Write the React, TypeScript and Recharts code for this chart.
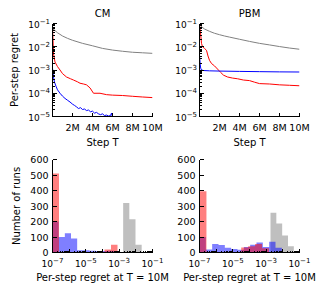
import React from 'react';
import { LineChart, ComposedChart, Line, Area, XAxis, YAxis } from 'recharts';

const FONT = "'DejaVu Sans', sans-serif";
const M = 1e6;

// ---------- Top row: per-step regret vs step T (T in millions) ----------
const CM_GRAY_T = [0, 0.2, 0.5, 1, 1.5, 2, 3, 4, 5, 6, 7, 8, 9, 10];
const CM_GRAY_V = [0.06, 0.052, 0.04, 0.029, 0.023, 0.019, 0.014, 0.011, 0.0085, 0.0072, 0.0064, 0.0058, 0.0055, 0.0052];
const CM_RED_T = [0, 0.05, 0.1, 0.25, 0.5, 0.75, 1.0, 1.4, 1.8, 2.1, 2.5, 2.75, 3.1, 3.4, 3.75, 4.1, 4.75, 5.4, 6, 7, 8, 9, 10];
const CM_RED_V = [0.07, 0.02, 0.005, 0.0022, 0.0014, 0.001, 0.0007, 0.0005, 0.00042, 0.00037, 0.00031, 0.00027, 0.00025, 0.00023, 0.00017, 0.0001, 0.0001, 0.000087, 0.000083, 0.00008, 0.000074, 0.000069, 0.000065];
const CM_BLUE_T = [0, 0.05, 0.1, 0.2, 0.35, 0.5, 0.75, 1.0, 1.25, 1.5, 1.75, 2.0, 2.2, 2.4, 2.6, 2.8, 3.0, 3.2, 3.4, 3.6, 3.8, 4.0, 4.2, 4.4, 4.6, 4.8, 5.0, 5.2, 5.4, 5.6, 5.8, 5.9, 6.0, 6.2];
const CM_BLUE_V = [0.0012, 0.0008, 0.0005, 0.0003, 0.0002, 0.00014, 0.0001, 0.000075, 0.00006, 0.00005, 0.000042, 0.000034, 0.00003, 0.000026, 0.000022, 0.000024, 0.00002, 0.000021, 0.000018, 0.000019, 0.000016, 0.000017, 0.000014, 0.000015, 0.000013, 0.000012, 0.000013, 0.000011, 0.0000115, 0.0000105, 0.000011, 0.000014, 0.000009, 0.000007];

const PBM_GRAY_T = [0, 0.1, 0.25, 0.5, 1, 1.5, 2, 2.5, 3, 4, 5, 6, 7, 8, 9, 10];
const PBM_GRAY_V = [0.095, 0.082, 0.07, 0.058, 0.046, 0.038, 0.033, 0.029, 0.026, 0.021, 0.017, 0.014, 0.012, 0.0102, 0.0088, 0.0078];
const PBM_RED_T = [0, 0.1, 0.2, 0.3, 0.5, 0.7, 0.85, 1.0, 1.2, 1.5, 1.8, 2.1, 2.4, 2.8, 3.3, 3.8, 4.4, 5.0, 5.5, 6.0, 7.0, 8.0, 9.0, 10];
const PBM_RED_V = [0.09, 0.04, 0.014, 0.01, 0.0085, 0.007, 0.004, 0.0026, 0.0019, 0.0015, 0.0011, 0.0008, 0.0006, 0.0005, 0.00045, 0.00042, 0.00037, 0.00035, 0.0003, 0.00026, 0.00025, 0.00023, 0.00022, 0.00021];
const PBM_BLUE_T = [0, 0.03, 0.07, 0.12, 0.2, 0.4, 1, 2, 4, 6, 8, 10];
const PBM_BLUE_V = [0.0045, 0.003, 0.0018, 0.0012, 0.001, 0.00095, 0.00092, 0.0009, 0.00087, 0.00085, 0.00083, 0.00082];

// ---------- Bottom row: histograms (bins in log10 of regret) ----------
const CM_RED_EDGE0 = -7, CM_RED_BINW = 0.39;
const CM_RED_COUNTS = [510, 0, 0, 0, 0, 0, 0, 0, 20, 50];
const CM_BLUE_EDGE0 = -7, CM_BLUE_BINW = 0.37;
const CM_BLUE_COUNTS = [200, 100, 125, 90, 15, 15, 12, 10, 10, 12];
const CM_GRAY_EDGE0 = -2.76, CM_GRAY_BINW = 0.37;
const CM_GRAY_COUNTS = [320, 215, 50];

const PBM_RED_EDGE0 = -7, PBM_RED_BINW = 0.417;
const PBM_RED_COUNTS = [395, 0, 0, 0, 0, 0, 33, 40, 55, 28];
const PBM_BLUE_EDGE0 = -7, PBM_BLUE_BINW = 0.38;
const PBM_BLUE_COUNTS = [100, 20, 55, 48, 31, 22, 18, 35, 50, 65, 35, 70, 30];
const PBM_GRAY_EDGE0 = -2.74, PBM_GRAY_BINW = 0.35;
const PBM_GRAY_COUNTS = [256, 187, 110, 41];

// ---------- Ticks ----------
const STEP_TICKS_M = [2, 4, 6, 8, 10];
const REGRET_EXPS = [-5, -4, -3, -2, -1];
const HIST_EXPS = [-7, -6, -5, -4, -3, -2, -1];
const HIST_LABEL_EXPS = [-7, -5, -3, -1];
const COUNT_TICKS = [0, 100, 200, 300, 400, 500, 600];

const withMinors = (exps: number[]) => {
  const out: number[] = [];
  exps.forEach((k, i) => {
    out.push(Math.pow(10, k));
    if (i < exps.length - 1) for (let m = 2; m <= 9; m++) out.push(m * Math.pow(10, k));
  });
  return out;
};
const REGRET_TICKS = withMinors(REGRET_EXPS);
const HIST_X_TICKS = withMinors(HIST_EXPS);
const STEP_TICKS = STEP_TICKS_M.map((t) => t * M);

const toLine = (ts: number[], vs: number[]) => ts.map((t, i) => ({ t: t * M, v: vs[i] }));

type Hist = { start: number; width: number; counts: number[] };
const buildHistRows = (series: Record<string, Hist>) => {
  const edges = new Set<number>([-7, -1]);
  Object.values(series).forEach((h) => {
    for (let i = 0; i <= h.counts.length; i++) edges.add(+(h.start + i * h.width).toFixed(6));
  });
  const sorted = Array.from(edges).sort((a, b) => a - b);
  return sorted.map((e) => {
    const row: Record<string, number> = { x: Math.pow(10, e) };
    Object.entries(series).forEach(([k, h]) => {
      const idx = Math.floor((e - h.start) / h.width + 1e-6);
      row[k] = idx >= 0 && idx < h.counts.length ? h.counts[idx] : 0;
    });
    return row;
  });
};

const expOf = (v: number) => Math.round(Math.log10(v));
const isDecade = (v: number) => Math.abs(Math.log10(v) - expOf(v)) < 1e-6;

const Pow = ({ x, y, exp, anchor }: { x: number; y: number; exp: number; anchor: 'start' | 'middle' | 'end' }) => (
  <text x={x} y={y} textAnchor={anchor} fontFamily={FONT} fontSize={9} fill="#000">
    <tspan>10</tspan>
    <tspan dy={-4} fontSize={7}>{exp < 0 ? '\u2212' + Math.abs(exp) : String(exp)}</tspan>
  </text>
);

const TL = (p: { x1: number; y1: number; x2: number; y2: number }) => (
  <line {...p} stroke="#000" strokeWidth={1} shapeRendering="crispEdges" />
);

// tick renderers (tickSize=0, tickMargin=0 so x/y are on the spine)
const leftLogTick = (p: any) => {
  const v = p.payload.value;
  const major = isDecade(v);
  const len = major ? 4 : 2;
  return (
    <g>
      <TL x1={p.x} x2={p.x + len} y1={p.y} y2={p.y} />
      {major && <Pow x={p.x - 2.5} y={p.y + 4} exp={expOf(v)} anchor="end" />}
    </g>
  );
};
const rightLogTick = (p: any) => {
  const len = isDecade(p.payload.value) ? 4 : 2;
  return <TL x1={p.x} x2={p.x - len} y1={p.y} y2={p.y} />;
};
const leftLinTick = (p: any) => (
  <g>
    <TL x1={p.x} x2={p.x + 4} y1={p.y} y2={p.y} />
    <text x={p.x - 4} y={p.y + 3.5} textAnchor="end" fontFamily={FONT} fontSize={9.5} fill="#000">
      {p.payload.value}
    </text>
  </g>
);
const rightLinTick = (p: any) => <TL x1={p.x} x2={p.x - 4} y1={p.y} y2={p.y} />;
const bottomStepTick = (p: any) => (
  <g>
    <TL x1={p.x} x2={p.x} y1={p.y} y2={p.y - 4} />
    <text x={p.x} y={p.y + 14} textAnchor="middle" fontFamily={FONT} fontSize={9.5} fill="#000">
      {`${p.payload.value / M}M`}
    </text>
  </g>
);
const topStepTick = (p: any) => <TL x1={p.x} x2={p.x} y1={p.y} y2={p.y + 4} />;
const bottomLogTick = (p: any) => {
  const v = p.payload.value;
  const major = isDecade(v);
  const len = major ? 4 : 2;
  const e = expOf(v);
  return (
    <g>
      <TL x1={p.x} x2={p.x} y1={p.y} y2={p.y - len} />
      {major && HIST_LABEL_EXPS.includes(e) && <Pow x={p.x} y={p.y + 14} exp={e} anchor="middle" />}
    </g>
  );
};
const topLogTick = (p: any) => {
  const len = isDecade(p.payload.value) ? 4 : 2;
  return <TL x1={p.x} x2={p.x} y1={p.y} y2={p.y + len} />;
};

const AXIS = { stroke: '#000', strokeWidth: 1, shapeRendering: 'crispEdges' } as any;
const tickBase = { tickSize: 0, tickMargin: 0, tickLine: false, interval: 0 as const, axisLine: AXIS };

type LineSpec = { data: { t: number; v: number }[]; color: string };

const CW = 175; // chart svg width (wider than the cell so end labels are not clipped)

function RegretChart({ lines, yw, mr }: { lines: LineSpec[]; yw: number; mr: number }) {
  return (
    <LineChart width={CW} height={150} margin={{ top: 23.5, right: mr, bottom: 0, left: 0 }}>
      <XAxis xAxisId="b" dataKey="t" type="number" domain={[0, 10 * M]} ticks={STEP_TICKS} tick={bottomStepTick} height={33.5} allowDataOverflow {...tickBase} />
      <XAxis xAxisId="t" orientation="top" type="number" domain={[0, 10 * M]} ticks={STEP_TICKS} tick={topStepTick} height={0} allowDataOverflow {...tickBase} />
      <YAxis yAxisId="l" type="number" scale="log" domain={[1e-5, 1e-1]} ticks={REGRET_TICKS} tick={leftLogTick} width={yw} allowDataOverflow {...tickBase} />
      <YAxis yAxisId="r" orientation="right" type="number" scale="log" domain={[1e-5, 1e-1]} ticks={REGRET_TICKS} tick={rightLogTick} width={0} allowDataOverflow {...tickBase} />
      {lines.map((l, i) => (
        <Line key={i} xAxisId="b" yAxisId="l" data={l.data} dataKey="v" type="linear" stroke={l.color} strokeWidth={1} dot={false} activeDot={false} isAnimationActive={false} />
      ))}
    </LineChart>
  );
}

function HistChart({ rows, yw, mr }: { rows: Record<string, number>[]; yw: number; mr: number }) {
  return (
    <ComposedChart width={CW} height={150} data={rows} margin={{ top: 9.5, right: mr, bottom: 0, left: 0 }}>
      <XAxis xAxisId="b" dataKey="x" type="number" scale="log" domain={[1e-7, 1e-1]} ticks={HIST_X_TICKS} tick={bottomLogTick} height={47.5} allowDataOverflow {...tickBase} />
      <XAxis xAxisId="t" orientation="top" type="number" scale="log" domain={[1e-7, 1e-1]} ticks={HIST_X_TICKS} tick={topLogTick} height={0} allowDataOverflow {...tickBase} />
      <YAxis yAxisId="l" type="number" domain={[0, 600]} ticks={COUNT_TICKS} tick={leftLinTick} width={yw} allowDataOverflow {...tickBase} />
      <YAxis yAxisId="r" orientation="right" type="number" domain={[0, 600]} ticks={COUNT_TICKS} tick={rightLinTick} width={0} allowDataOverflow {...tickBase} />
      <Area xAxisId="b" yAxisId="l" type="stepAfter" dataKey="gray" fill="#808080" fillOpacity={0.5} stroke="none" isAnimationActive={false} dot={false} activeDot={false} />
      <Area xAxisId="b" yAxisId="l" type="stepAfter" dataKey="blue" fill="#0000ff" fillOpacity={0.5} stroke="none" isAnimationActive={false} dot={false} activeDot={false} />
      <Area xAxisId="b" yAxisId="l" type="stepAfter" dataKey="red" fill="#ff0000" fillOpacity={0.5} stroke="none" isAnimationActive={false} dot={false} activeDot={false} />
    </ComposedChart>
  );
}

const cmLines: LineSpec[] = [
  { data: toLine(CM_GRAY_T, CM_GRAY_V), color: '#808080' },
  { data: toLine(CM_RED_T, CM_RED_V), color: '#ff0000' },
  { data: toLine(CM_BLUE_T, CM_BLUE_V), color: '#0000ff' },
];
const pbmLines: LineSpec[] = [
  { data: toLine(PBM_GRAY_T, PBM_GRAY_V), color: '#808080' },
  { data: toLine(PBM_RED_T, PBM_RED_V), color: '#ff0000' },
  { data: toLine(PBM_BLUE_T, PBM_BLUE_V), color: '#0000ff' },
];
const cmHist = buildHistRows({
  gray: { start: CM_GRAY_EDGE0, width: CM_GRAY_BINW, counts: CM_GRAY_COUNTS },
  blue: { start: CM_BLUE_EDGE0, width: CM_BLUE_BINW, counts: CM_BLUE_COUNTS },
  red: { start: CM_RED_EDGE0, width: CM_RED_BINW, counts: CM_RED_COUNTS },
});
const pbmHist = buildHistRows({
  gray: { start: PBM_GRAY_EDGE0, width: PBM_GRAY_BINW, counts: PBM_GRAY_COUNTS },
  blue: { start: PBM_BLUE_EDGE0, width: PBM_BLUE_BINW, counts: PBM_BLUE_COUNTS },
  red: { start: PBM_RED_EDGE0, width: PBM_RED_BINW, counts: PBM_RED_COUNTS },
});

const txt = { fontFamily: FONT, fontSize: 10, fill: '#000' } as const;

export default function App() {
  return (
    <div style={{ position: 'absolute', left: 0, top: 0, width: 320, height: 300, background: '#fff', overflow: 'hidden' }}>
      <div style={{ position: 'absolute', left: 0, top: 0 }}>
        <RegretChart lines={cmLines} yw={52.5} mr={CW - 152.5} />
      </div>
      <div style={{ position: 'absolute', left: 0, top: 150 }}>
        <HistChart rows={cmHist} yw={52.5} mr={CW - 152.5} />
      </div>
      <div style={{ position: 'absolute', left: 160, top: 0 }}>
        <RegretChart lines={pbmLines} yw={39.5} mr={CW - 139.5} />
      </div>
      <div style={{ position: 'absolute', left: 160, top: 150 }}>
        <HistChart rows={pbmHist} yw={39.5} mr={CW - 139.5} />
      </div>
      <svg width={320} height={300} style={{ position: 'absolute', left: 0, top: 0, pointerEvents: 'none' }}>
        <text x={102.5} y={16.5} textAnchor="middle" {...txt}>CM</text>
        <text x={249.5} y={16.5} textAnchor="middle" {...txt}>PBM</text>
        <text x={102.5} y={145.5} textAnchor="middle" {...txt}>Step T</text>
        <text x={249.5} y={145.5} textAnchor="middle" {...txt}>Step T</text>
        <text x={102.5} y={281} textAnchor="middle" {...txt}>Per-step regret at T = 10M</text>
        <text x={249.5} y={281} textAnchor="middle" {...txt}>Per-step regret at T = 10M</text>
        <text transform="translate(17.5,70) rotate(-90)" textAnchor="middle" {...txt}>Per-step regret</text>
        <text transform="translate(19.5,206) rotate(-90)" textAnchor="middle" {...txt}>Number of runs</text>
      </svg>
    </div>
  );
}
